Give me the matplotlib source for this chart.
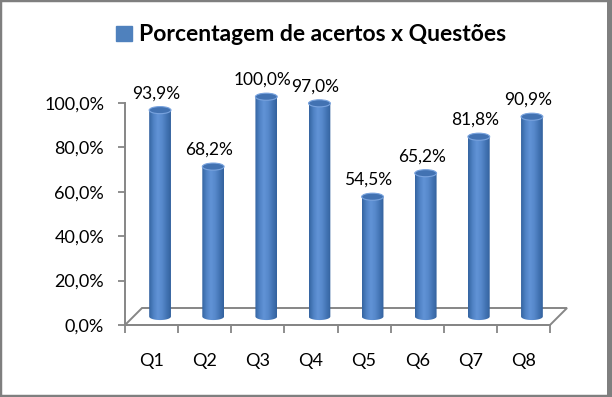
import numpy as np
import matplotlib
matplotlib.use("Agg")
import matplotlib.pyplot as plt
from matplotlib.patches import Ellipse, PathPatch, Polygon, Patch, Rectangle
from matplotlib.path import Path
from matplotlib.colors import LinearSegmentedColormap

plt.rcParams["font.family"] = ["Lato", "DejaVu Sans"]

# data
categories = ["Q1", "Q2", "Q3", "Q4", "Q5", "Q6", "Q7", "Q8"]
values = [93.9, 68.2, 100.0, 97.0, 54.5, 65.2, 81.8, 90.9]
yticks = [0, 20, 40, 60, 80, 100]
series_name = "Porcentagem de acertos x Questões"

BLUE = "#4F81BD"
GRID = "#868686"
cyl_cmap = LinearSegmentedColormap.from_list(
    "cyl", ["#3564A0", "#4F82C4", "#6193D6", "#5789CC", "#4475B5", "#33629E"])


def pct(v):
    return f"{v:.1f}%".replace(".", ",")


fig = plt.figure(figsize=(6.12, 3.97), dpi=100)
fig.patch.set_facecolor("white")

# axes: 0..125 on y so the cylinder tops fit, spine cut at 100
px_per_unit = 222 / 100
ymax = 125
ax = fig.add_axes([125 / 612, 72 / 397, 425 / 612, ymax * px_per_unit / 397])
ax.set_xlim(-0.5, len(categories) - 0.5)
ax.set_ylim(0, ymax)
ax.set_facecolor("none")

for s in ("top", "right"):
    ax.spines[s].set_visible(False)
for s in ("left", "bottom"):
    ax.spines[s].set_color(GRID)
    ax.spines[s].set_linewidth(1.4)
ax.spines["left"].set_bounds(0, 100)

ax.set_yticks(yticks)
ax.set_yticklabels([pct(v) for v in yticks])
ax.tick_params(axis="y", length=5, width=1.3, color=GRID, pad=10,
               labelsize=13, labelcolor="black")

n = len(categories)
ax.set_xticks(np.arange(n + 1) - 0.5)
ax.set_xticklabels([])
ax.tick_params(axis="x", which="major", length=6, width=1.3, color=GRID)
ax.set_xticks(np.arange(n), minor=True)
ax.set_xticklabels(categories, minor=True)
ax.tick_params(axis="x", which="minor", length=0, pad=20, labelsize=13,
               labelcolor="black")

# floor (pseudo 3D depth)
depth_x = 17 / 53.1
depth_y = 17 / px_per_unit
floor = Polygon([(-0.5, 0), (n - 0.5, 0), (n - 0.5 + depth_x, depth_y),
                 (-0.5 + depth_x, depth_y)], closed=True, facecolor="white",
                edgecolor=GRID, lw=1.4, clip_on=False, zorder=1)
ax.add_patch(floor)

# cylinders
cw = 0.41
eh = 3.2
dx = depth_x / 2
dy = depth_y / 2
grad = np.linspace(0, 1, 64).reshape(1, -1)
theta = np.linspace(np.pi, 2 * np.pi, 40)
for i, v in enumerate(values):
    c = i + dx
    x0, x1 = c - cw / 2, c + cw / 2
    yb, yt = dy, dy + v * 0.99
    arc = np.column_stack([c + cw / 2 * np.cos(theta), yb + eh / 2 * np.sin(theta)])
    pts = np.vstack([[x0, yt], arc, [x1, yt], [x0, yt]])
    body = PathPatch(Path(pts), facecolor="none", edgecolor="none",
                     transform=ax.transData)
    ax.add_patch(body)
    im = ax.imshow(grad, cmap=cyl_cmap, aspect="auto",
                   extent=(x0, x1, yb - eh, yt), zorder=2, interpolation="bilinear")
    im.set_clip_path(body)
    ax.add_patch(Ellipse((c, yt), cw, eh, facecolor="#4272B2",
                         edgecolor="#79A3DE", lw=0.8, zorder=3))
    ax.annotate(pct(v), xy=(c, yt), xytext=(-4, 17), textcoords="offset pixels",
                ha="center", va="center", fontsize=12.5, color="black")

ax.set_xlim(-0.5, n - 0.5)
ax.set_ylim(0, ymax)

# legend as title
fig.legend(handles=[Patch(facecolor=BLUE, edgecolor=BLUE)], labels=[series_name],
           loc="center", bbox_to_anchor=(0.508, 0.912), frameon=False,
           prop={"weight": "bold", "size": 16.5}, handlelength=0.68,
           handleheight=0.68, handletextpad=0.3)

# outer frame
fig.add_artist(Rectangle((0, 0), 1, 1, transform=fig.transFigure, fill=False,
                         edgecolor="#7F7F7F", lw=3.2))
fig.add_artist(Rectangle((607 / 612, 0), 5 / 612, 1, transform=fig.transFigure,
                         facecolor="#7F7F7F", edgecolor="none"))

fig.savefig("out.png", dpi=100, facecolor="white")
